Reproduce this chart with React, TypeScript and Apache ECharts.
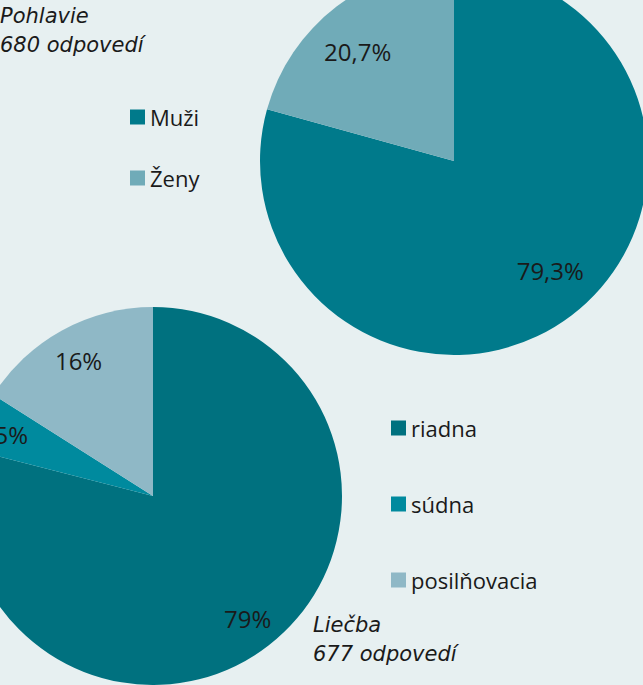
import React, { useEffect, useRef } from "react";
import * as echarts from "echarts";

const genderNames = ["Muži", "Ženy"];
const genderValues = [79.3, 20.7];
const genderColors = ["#007a8b", "#70abb8"];

const treatNames = ["riadna", "súdna", "posilňovacia"];
const treatValues = [79, 5, 16];
const treatColors = ["#00717f", "#008a9e", "#8fb8c6"];

const titleTop = "Pohlavie\n680 odpovedí";
const titleBottom = "Liečba\n677 odpovedí";

const fmt = (p: any) => String(p.value).replace(".", ",") + "%";

export default function App() {
  const ref = useRef<HTMLDivElement>(null);
  useEffect(() => {
    if (!ref.current) return;
    const chart = echarts.init(ref.current, undefined, { renderer: "svg" });
    const font = "'Open Sans', sans-serif";
    const visible = (names: string[], values: number[], colors: string[]) =>
      names.map((n, i) => ({ name: n, value: values[i], itemStyle: { color: colors[i] } }));
    const hidden = (names: string[], values: number[]) =>
      names.map((n, i) => ({ name: n, value: values[i] }));
    chart.setOption({
      animation: false,
      backgroundColor: "#e7f0f1",
      title: [
        {
          text: titleTop,
          left: 0,
          top: 1,
          padding: 0,
          textStyle: { fontFamily: "'DejaVu Sans', sans-serif", fontStyle: "italic", fontWeight: "normal", fontSize: 21, lineHeight: 29, color: "#1a1a1a" },
        },
        {
          text: titleBottom,
          left: 313,
          top: 610,
          padding: 0,
          textStyle: { fontFamily: "'DejaVu Sans', sans-serif", fontStyle: "italic", fontWeight: "normal", fontSize: 21, lineHeight: 29, color: "#1a1a1a" },
        },
      ],
      legend: [
        {
          data: genderNames,
          orient: "vertical",
          left: 130,
          top: 105,
          padding: 0,
          icon: "rect",
          itemWidth: 15,
          itemHeight: 15,
          itemGap: 37,
          itemTextGap: 6,
          selectedMode: false,
          textStyle: { fontFamily: font, fontSize: 22, lineHeight: 24, color: "#1a1a1a" },
        },
        {
          data: treatNames,
          orient: "vertical",
          left: 391,
          top: 416,
          padding: 0,
          icon: "rect",
          itemWidth: 15,
          itemHeight: 15,
          itemGap: 52,
          itemTextGap: 6,
          selectedMode: false,
          textStyle: { fontFamily: font, fontSize: 22, lineHeight: 24, color: "#1a1a1a" },
        },
      ],
      series: [
        {
          type: "pie",
          center: [454, 161],
          radius: 194,
          startAngle: 90,
          clockwise: true,
          avoidLabelOverlap: false,
          label: { show: false },
          labelLine: { show: false },
          emphasis: { disabled: true },
          data: visible(genderNames, genderValues, genderColors),
        },
        {
          type: "pie",
          center: [153, 496],
          radius: 189,
          startAngle: 90,
          clockwise: true,
          avoidLabelOverlap: false,
          label: { show: false },
          labelLine: { show: false },
          emphasis: { disabled: true },
          data: visible(treatNames, treatValues, treatColors),
        },
        {
          type: "pie",
          center: [454, 161],
          radius: [92, 194],
          startAngle: 94,
          clockwise: true,
          silent: true,
          avoidLabelOverlap: false,
          itemStyle: { color: "rgba(0,0,0,0)" },
          label: { show: true, position: "inside", formatter: fmt, fontFamily: font, fontSize: 24, color: "#1a1a1a" },
          labelLine: { show: false },
          emphasis: { disabled: true },
          data: hidden(genderNames, genderValues),
        },
        {
          type: "pie",
          center: [153, 496],
          radius: [114, 189],
          startAngle: 90,
          clockwise: true,
          silent: true,
          avoidLabelOverlap: false,
          itemStyle: { color: "rgba(0,0,0,0)" },
          label: { show: true, position: "inside", formatter: fmt, fontFamily: font, fontSize: 24, color: "#1a1a1a" },
          labelLine: { show: false },
          emphasis: { disabled: true },
          data: hidden(treatNames, treatValues),
        },
      ],
    });
    return () => chart.dispose();
  }, []);
  return (
    <div
      ref={ref}
      style={{ position: "fixed", left: 0, top: 0, width: 643, height: 685 }}
    />
  );
}
